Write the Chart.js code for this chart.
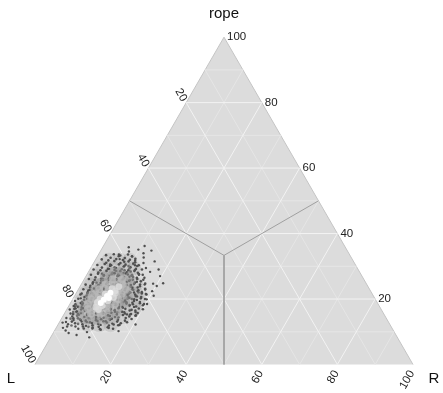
<!DOCTYPE html>
<html>
<head>
<meta charset="utf-8">
<script src="https://cdn.jsdelivr.net/npm/chart.js@4"></script>
<style>
  html, body { margin: 0; padding: 0; background: #fff; }
  #wrap { width: 443px; height: 393px; }
</style>
</head>
<body>
<div id="wrap"><canvas id="tern" width="443" height="393"></canvas></div>
<script>
// axis names and tick labels
const axisTop = "rope";
const axisLeft = "L";
const axisRight = "R";
const tickValues = [20, 40, 60, 80, 100];
const gridSteps = [10, 20, 30, 40, 50, 60, 70, 80, 90];

// points as [rope, R] in percent (L = 100 - rope - R), grouped by local density
const outerPts = [
  [8.3,10.2],[9.0,6.5],[9.6,4.1],[9.9,8.8],[10.4,2.9],[10.6,12.1],[10.9,6.0],[11.2,1.8],[11.0,9.7],
  [11.6,4.9],[11.8,7.6],[12.1,11.3],[12.3,2.6],[12.5,14.2],[12.8,0.9],[13.1,5.8],[13.3,9.9],[13.6,3.4],
  [13.9,12.8],[12.0,16.0],[13.0,1.7],[11.4,13.5],[14.2,1.2],[14.4,14.9],[14.7,2.5],[15.0,11.9],[15.3,16.7],
  [15.6,1.6],[15.9,13.8],[16.2,3.0],[16.5,18.3],[16.8,0.8],[14.9,19.1],[16.0,15.6],[15.2,4.0],[17.1,2.2],
  [17.3,14.6],[17.6,17.4],[17.9,1.3],[18.2,15.9],[18.5,20.4],[18.8,2.7],[19.1,13.9],[19.4,0.9],[19.7,17.1],
  [17.5,3.6],[18.9,16.3],[19.9,19.6],[20.2,2.0],[20.4,14.8],[20.8,16.6],[21.1,3.1],[21.4,18.8],[21.7,1.5],
  [22.0,15.2],[22.3,13.6],[22.6,2.8],[22.9,17.7],[21.0,20.9],[22.4,19.8],[23.2,4.0],[23.5,15.4],[23.8,13.4],
  [24.1,2.6],[24.4,16.8],[24.7,18.9],[25.0,3.8],[25.3,14.3],[25.6,5.2],[25.9,12.9],[24.0,20.2],[26.2,4.4],
  [26.5,15.7],[26.8,11.6],[27.1,6.1],[27.4,13.8],[27.7,3.9],[28.0,9.4],[28.3,16.3],[28.6,7.2],[28.9,12.0],
  [29.2,5.0],[29.5,14.6],[29.9,8.5],[30.3,11.3],[30.6,4.6],[31.0,13.2],[31.4,7.9],[31.8,10.6],[32.2,6.3],
  [32.7,12.4],[33.1,9.1],[33.6,5.4],[34.0,11.7],[34.5,7.6],[35.1,9.8],[35.8,6.9],[36.2,10.9],[34.8,13.4],
  [31.5,15.9],[29.0,18.2],[27.0,19.6],[24.8,21.5],[12.2,20.5],[10.2,17.0],[11.6,2.7],[17.7,1.7],[15.3,17.5]
];
const ringPts = [
  [11.0,7.4],[11.3,9.6],[10.8,11.8],[11.2,13.9],[10.9,15.2],
  [12.6,4.3],[12.3,6.4],[12.7,8.7],[12.4,10.5],[12.8,12.6],[12.2,14.7],[12.6,16.4],[12.9,17.9],
  [14.1,3.1],[13.8,5.0],[14.2,7.1],[13.9,9.2],[14.3,11.0],[14.0,13.3],[13.7,15.1],[14.2,16.9],[13.9,18.6],
  [15.4,2.4],[15.7,4.3],[15.3,6.2],[15.6,8.4],[15.5,10.2],[15.8,12.3],[15.3,14.0],[15.6,16.0],[15.4,17.7],[15.7,19.3],
  [17.0,1.9],[16.8,3.8],[17.2,5.7],[16.9,7.9],[17.1,9.8],[16.8,11.6],[17.2,13.5],[17.0,15.4],[16.7,17.2],[17.1,18.9],[16.9,20.1],
  [18.4,1.5],[18.7,3.3],[18.3,5.2],[18.6,7.3],[18.5,9.3],[18.8,11.1],[18.3,13.0],[18.6,14.9],[18.4,16.7],[18.7,18.4],[18.5,19.6],
  [20.1,1.4],[19.8,3.1],[20.2,4.9],[19.9,6.9],[20.0,8.8],[20.3,10.7],[19.8,12.6],[20.1,14.4],[19.9,16.3],[20.2,17.9],[20.0,19.1],
  [21.4,1.3],[21.7,3.0],[21.3,4.8],[21.6,6.6],[21.5,8.5],[21.8,10.4],[21.3,12.2],[21.6,14.0],[21.4,15.8],[21.7,17.4],[21.5,18.6],
  [23.0,1.3],[22.8,3.1],[23.2,4.9],[22.9,6.8],[23.1,8.6],[22.8,10.5],[23.2,12.3],[23.0,14.2],[22.7,16.0],[23.1,17.6],
  [24.4,1.2],[24.7,2.9],[24.3,4.7],[24.6,6.5],[24.5,8.4],[24.8,10.2],[24.3,12.1],[24.6,13.9],[24.4,15.6],[24.7,16.8],
  [26.1,1.2],[25.8,2.9],[26.2,4.8],[25.9,6.6],[26.0,8.5],[26.3,10.3],[25.8,12.2],[26.1,14.0],[25.9,15.7],
  [27.4,1.1],[27.7,2.8],[27.3,4.6],[27.6,6.5],[27.5,8.3],[27.8,10.1],[27.3,12.0],[27.6,13.7],[27.4,14.8],
  [29.0,1.0],[28.8,2.9],[29.2,4.7],[28.9,6.6],[29.1,8.4],[28.8,10.3],[29.2,12.1],[29.0,13.8],
  [30.4,1.3],[30.7,3.1],[30.3,5.0],[30.6,6.9],[30.5,8.7],[30.8,10.6],[30.3,12.3],
  [32.1,1.6],[31.8,3.5],[32.2,5.4],[31.9,7.3],[32.0,9.1],[32.3,10.4],
  [33.4,2.1],[33.7,4.0],[33.3,5.9],[33.6,7.8],
  [11.6,6.9],[12.0,9.2],[11.5,11.1],[11.9,13.6],[12.1,16.3],
  [13.1,3.2],[13.6,5.3],[13.0,7.2],[13.5,9.4],[13.2,11.5],[13.7,13.0],[13.1,15.2],[13.4,17.1],
  [14.9,3.7],[14.5,5.8],[15.1,7.5],[14.6,9.9],[15.0,11.8],[14.5,13.9],[15.1,15.7],[14.7,17.6],[15.0,19.2],
  [16.1,2.9],[16.6,5.1],[16.0,7.0],[16.5,9.0],[16.2,11.1],[16.6,12.8],[16.1,15.0],[16.5,16.8],[16.0,18.6],
  [17.6,2.6],[18.1,4.5],[17.5,6.6],[18.0,8.4],[17.7,10.5],[18.1,12.3],[17.6,14.3],[18.0,16.0],[17.7,17.9],[18.1,19.5],
  [19.1,2.9],[19.6,5.0],[19.0,7.1],[19.5,8.9],[19.2,10.8],[19.6,12.8],[19.0,14.7],[19.4,16.5],[19.1,18.2],
  [20.6,2.8],[21.1,4.9],[20.5,6.8],[21.0,8.7],[20.7,10.6],[21.1,12.5],[20.5,14.4],[20.9,16.2],[20.6,17.8],
  [22.1,2.9],[22.6,4.8],[22.0,6.7],[22.5,8.6],[22.2,10.5],[22.6,12.4],[22.0,14.2],[22.4,16.0],[22.1,17.2],
  [23.6,2.8],[24.1,4.7],[23.5,6.6],[24.0,8.5],[23.7,10.4],[24.1,12.2],[23.5,14.0],[23.9,15.8],
  [25.1,2.8],[25.6,4.7],[25.0,6.6],[25.5,8.4],[25.2,10.3],[25.6,12.1],[25.0,13.9],[25.4,15.3],
  [26.6,2.7],[27.1,4.6],[26.5,6.5],[27.0,8.3],[26.7,10.2],[27.1,12.0],[26.5,13.7],
  [28.1,2.7],[28.6,4.6],[28.0,6.5],[28.5,8.3],[28.2,10.2],[28.6,12.0],[28.0,13.2],
  [29.6,2.9],[30.1,4.8],[29.5,6.7],[30.0,8.6],[29.7,10.4],[30.1,12.0],
  [31.1,3.3],[31.6,5.2],[31.0,7.1],[31.5,9.0],[31.2,10.9],
  [32.6,3.7],[33.1,5.6],[32.5,7.5],[33.0,9.2]
];
const midPts = [
  [12.4,5.2],[12.9,8.1],[13.4,6.7],[13.8,10.6],[14.1,4.3],[14.5,8.9],[14.8,12.4],[15.1,6.2],[15.5,3.6],
  [15.8,10.1],[16.1,13.1],[16.4,5.0],[16.7,8.0],[17.0,11.5],[17.2,4.1],[17.6,13.4],[17.9,6.6],[18.3,3.3],
  [18.6,12.0],[18.9,9.9],[19.2,4.6],[19.5,14.1],[19.8,11.8],[20.1,3.8],[20.5,12.7],[20.8,5.1],[21.2,13.9],
  [21.5,10.9],[21.8,4.2],[22.1,12.2],[22.5,6.0],[22.8,14.6],[23.1,10.4],[23.4,5.1],[23.7,12.1],[24.0,7.4],
  [24.3,13.2],[24.6,9.1],[24.9,4.9],[25.2,11.6],[25.6,7.8],[25.9,10.2],[26.3,6.4],[26.7,12.6],[27.0,8.8],
  [27.5,10.8],[27.9,7.1],[28.4,11.1],[28.8,9.3],[29.4,10.3],[14.0,2.4],[16.0,2.1],[18.0,1.9],[20.0,15.6],
  [22.0,16.4],[13.2,12.1],[11.9,3.7],[11.5,8.4],[30.1,9.7],[29.7,6.2]
];
const hazePts = [
  [12.0,8.0],[12.0,11.0],[12.0,14.0],
  [14.5,4.0],[14.5,7.0],[14.5,10.0],[14.5,13.0],[14.5,16.0],
  [17.0,3.0],[17.0,6.0],[17.0,9.0],[17.0,12.0],[17.0,15.0],[17.0,18.0],
  [19.5,2.5],[19.5,5.5],[19.5,8.5],[19.5,11.5],[19.5,14.5],[19.5,17.5],
  [22.0,2.5],[22.0,5.5],[22.0,8.5],[22.0,11.5],[22.0,14.5],[22.0,16.5],
  [24.5,2.5],[24.5,5.5],[24.5,8.5],[24.5,11.5],[24.5,14.5],
  [27.0,2.5],[27.0,5.5],[27.0,8.5],[27.0,11.5],
  [29.5,3.0],[29.5,6.0],[29.5,9.0],[29.5,11.5],
  [32.0,3.5],[32.0,6.5],[32.0,9.0]
];
const grayPts = [
  [13.5,7.0],[13.5,9.5],[13.5,12.0],
  [15.0,4.5],[15.0,7.0],[15.0,9.5],[15.0,12.0],[15.0,14.0],
  [17.0,4.0],[17.0,6.0],[17.0,8.5],[17.0,11.0],[17.0,13.5],
  [19.0,3.8],[19.0,5.5],[19.0,8.0],[19.0,10.5],[19.0,13.0],[19.0,14.5],
  [21.0,4.0],[21.0,5.5],[21.0,8.0],[21.0,10.5],[21.0,13.0],[21.0,14.2],
  [23.0,4.2],[23.0,5.5],[23.0,8.0],[23.0,10.5],[23.0,13.0],
  [25.0,4.5],[25.0,6.0],[25.0,8.5],[25.0,11.0],[25.0,12.8],
  [27.0,5.0],[27.0,6.5],[27.0,9.0],[27.0,11.5],
  [28.5,6.5],[28.5,8.5]
];
const lightPts = [
  [15.5,7.0],[15.5,9.5],
  [17.0,5.5],[17.0,8.0],[17.0,10.5],
  [18.5,4.8],[18.5,7.2],[18.5,9.6],[18.5,12.0],
  [20.0,4.8],[20.0,7.2],[20.0,9.6],[20.0,12.0],
  [21.5,5.0],[21.5,7.4],[21.5,9.8],[21.5,12.2],
  [23.0,5.5],[23.0,7.9],[23.0,10.3],[23.0,12.5],
  [24.5,6.3],[24.5,8.7],[24.5,11.0],
  [26.0,7.5],[26.0,10.0]
];
const palePts = [
  [19.0,7.0],[19.5,9.5],[21.5,7.8],[22.5,10.0],[18.0,8.8],[20.5,10.5],[23.2,8.8],[17.5,7.3],
  [20.0,7.2],[21.8,10.3],[16.8,8.4],[23.8,10.3]
];
const corePts = [
  [20.9,8.6],[19.8,8.3],[18.8,8.0],[21.9,9.0],[20.3,9.4]
];

// ternary (rope, R) -> cartesian for the scatter scales
const H = Math.sqrt(3) / 2;
function toXY(rope, R) {
  return { x: (R + rope / 2) / 100, y: (rope / 100) * H };
}
const gap = { x: null, y: null };

function segments(list) {
  const out = [];
  list.forEach(([a, b]) => { out.push(toXY(a[0], a[1]), toXY(b[0], b[1]), gap); });
  return out;
}
function gridLines(steps) {
  const segs = [];
  steps.forEach(k => {
    segs.push([[k, 0], [k, 100 - k]]);       // rope = k
    segs.push([[0, k], [100 - k, k]]);       // R = k
    segs.push([[0, 100 - k], [100 - k, 0]]); // L = k
  });
  return segments(segs);
}
const third = 100 / 3;
const centerLines = segments([
  [[third, third], [0, 50]],
  [[third, third], [50, 0]],
  [[third, third], [50, 50]]
]);

function pointSet(pts, color, r, order) {
  return {
    data: pts.map(p => toXY(p[0], p[1])),
    backgroundColor: color,
    borderWidth: 0,
    pointRadius: r,
    pointHoverRadius: r,
    order: order
  };
}
function lineSet(data, color, width, order) {
  return {
    data: data,
    showLine: true,
    spanGaps: false,
    borderColor: color,
    borderWidth: width,
    pointRadius: 0,
    fill: false,
    order: order
  };
}

const labelFont = '11.5px "Liberation Sans", Arial, sans-serif';
const titleFont = '15px "Liberation Sans", Arial, sans-serif';

const ternLabels = {
  id: "ternLabels",
  afterDraw(chart) {
    const { ctx, scales: { x, y } } = chart;
    const px = (rope, R) => {
      const p = toXY(rope, R);
      return [x.getPixelForValue(p.x), y.getPixelForValue(p.y)];
    };
    const rot = (text, cx, cy, ang) => {
      ctx.save();
      ctx.translate(cx, cy);
      ctx.rotate(ang);
      ctx.textAlign = "right";
      ctx.fillText(text, 0, 0);
      ctx.restore();
    };
    ctx.save();
    ctx.fillStyle = "#222";
    ctx.font = labelFont;
    ctx.textBaseline = "middle";
    tickValues.forEach(v => {
      let [a, b] = px(v, 100 - v);
      ctx.textAlign = "left";
      ctx.fillText(String(v), a + 3, b);
      [a, b] = px(100 - v, 0);
      rot(String(v), a - 2, b - 2, Math.PI / 3);
      [a, b] = px(0, v);
      rot(String(v), a - 1, b + 7, -Math.PI / 3);
    });
    ctx.font = titleFont;
    ctx.fillStyle = "#111";
    ctx.textAlign = "center";
    let [a, b] = px(100, 0);
    ctx.fillText(axisTop, a, b - 23);
    [a, b] = px(0, 0);
    ctx.fillText(axisLeft, a - 24, b + 14);
    [a, b] = px(0, 100);
    ctx.fillText(axisRight, a + 21, b + 14);
    ctx.restore();
  }
};

new Chart(document.getElementById("tern").getContext("2d"), {
  type: "scatter",
  data: {
    datasets: [
      {
        data: [toXY(0, 0), toXY(100, 0), toXY(0, 100)],
        showLine: true,
        borderColor: "#c4c4c4",
        borderWidth: 1,
        backgroundColor: "#dcdcdc",
        fill: "origin",
        pointRadius: 0,
        order: 20
      },
      lineSet(gridLines(gridSteps.filter(k => k % 20 !== 0)), "#e6e6e6", 1, 19),
      lineSet(gridLines(gridSteps.filter(k => k % 20 === 0)), "#f3f3f3", 1, 18),
      lineSet(centerLines, "#a0a0a0", 1, 17),
      pointSet(hazePts, "rgba(110,110,110,0.16)", 7, 10),
      pointSet(outerPts, "#4e4e4e", 1.2, 8),
      pointSet(ringPts, "#505050", 1.3, 7),
      pointSet(grayPts, "rgba(150,150,150,0.5)", 4.5, 6),
      pointSet(midPts, "#6e6e6e", 1.3, 5),
      pointSet(lightPts, "rgba(185,185,185,0.75)", 3.8, 4),
      pointSet(palePts, "rgba(220,220,220,0.85)", 3.4, 3),
      pointSet(corePts, "#ffffff", 3, 2)
    ]
  },
  options: {
    responsive: false,
    animation: false,
    layout: { padding: 0, autoPadding: false },
    scales: {
      x: { type: "linear", display: false, min: -35 / 378, max: 408 / 378 },
      y: { type: "linear", display: false, min: -28.5 / 378, max: 364.5 / 378 }
    },
    plugins: {
      legend: { display: false },
      tooltip: { enabled: false }
    }
  },
  plugins: [ternLabels]
});
</script>
</body>
</html>
